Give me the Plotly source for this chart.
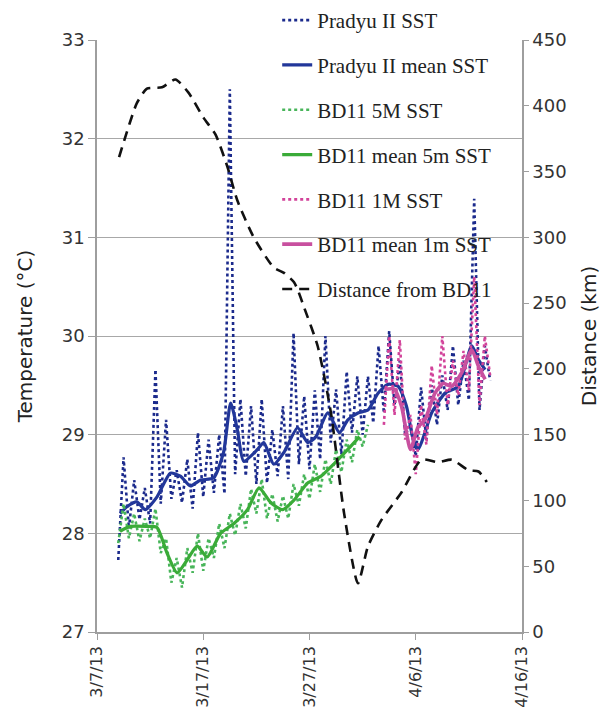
import plotly.graph_objects as go
import pandas as pd

BASE = pd.Timestamp("2013-03-07")

# ---- Pradyu II SST (raw): daily troughs (at day d) and peaks (at d+0.5)
P_TROUGH_DAY = list(range(2, 38))
P_TROUGH = [27.73, 28.05, 28.14, 28.10, 28.30, 28.35, 28.31, 28.25, 28.37, 28.41,
            28.40, 28.60, 28.58, 28.50, 28.51, 28.58, 28.55, 28.70, 28.65, 28.75,
            28.92, 28.80, 29.02, 29.00, 29.12, 29.22, 29.30, 29.00, 28.78, 28.95,
            29.10, 29.25, 29.30, 29.35, 29.25, 29.55]
P_PEAK_DAY = [d + 0.5 for d in range(2, 37)]
P_PEAK = [28.77, 28.54, 28.46, 29.66, 29.15, 28.64, 28.75, 29.02, 28.95, 29.00,
          32.50, 29.36, 29.29, 29.36, 29.05, 29.29, 30.03, 29.39, 29.45, 30.00,
          29.46, 29.64, 29.59, 29.59, 29.90, 30.05, 29.75, 29.10, 29.48, 29.50,
          29.60, 29.90, 29.75, 31.39, 29.90]

# ---- Pradyu II mean SST
P_MEAN_DAY = [2.17, 2.81, 3.75, 4.54, 5.65, 6.90, 7.85, 8.79, 9.74, 10.97,
              11.91, 12.58, 13.21, 13.81, 15.10, 15.70, 16.64, 17.59, 18.88, 19.83,
              20.61, 21.72, 22.82, 23.61, 24.56, 25.50, 26.45, 27.39, 28.34, 29.12,
              29.76, 30.23, 30.86, 31.49, 32.75, 34.01, 35.27, 35.91, 36.53]
P_MEAN = [28.20, 28.27, 28.32, 28.24, 28.37, 28.61, 28.58, 28.48, 28.54, 28.56,
          28.82, 29.32, 29.05, 28.73, 28.85, 28.92, 28.70, 28.82, 29.07, 28.92,
          28.98, 29.22, 29.02, 29.15, 29.22, 29.25, 29.42, 29.51, 29.49, 29.29,
          28.95, 28.85, 29.02, 29.22, 29.42, 29.49, 29.90, 29.76, 29.66]

# ---- BD11 5M SST (raw)
G_TROUGH_DAY = list(range(2, 26))
G_TROUGH = [27.90, 27.95, 27.92, 27.95, 27.80, 27.50, 27.45, 27.60, 27.62, 27.75,
            27.85, 27.98, 28.05, 28.20, 28.15, 28.12, 28.15, 28.28, 28.35, 28.42,
            28.50, 28.62, 28.72, 28.88]
G_PEAK_DAY = [d + 0.5 for d in range(2, 26)]
G_PEAK = [28.30, 28.20, 28.15, 28.25, 27.95, 27.75, 27.85, 28.00, 27.95, 28.10,
          28.20, 28.30, 28.45, 28.55, 28.40, 28.38, 28.50, 28.60, 28.70, 28.75,
          28.85, 28.95, 29.05, 29.10]

# ---- BD11 mean 5m SST
G_MEAN_DAY = [2.17, 3.12, 4.70, 5.65, 6.59, 7.54, 8.48, 9.43, 10.37, 11.63,
              12.89, 14.16, 15.25, 16.36, 17.47, 18.56, 19.83, 21.09, 22.35, 23.61, 24.71]
G_MEAN = [28.02, 28.07, 28.07, 28.06, 27.80, 27.60, 27.73, 27.87, 27.76, 28.00,
          28.10, 28.24, 28.46, 28.31, 28.24, 28.34, 28.51, 28.58, 28.71, 28.85, 28.98]

# ---- BD11 1M SST (raw)
M_TROUGH_DAY = list(range(27, 38))
M_TROUGH = [29.10, 29.20, 28.95, 28.60, 28.90, 29.20, 29.30, 29.40, 29.45, 29.30, 29.60]
M_PEAK_DAY = [d + 0.5 for d in range(27, 37)]
M_PEAK = [30.00, 29.96, 29.20, 29.30, 29.70, 30.00, 29.75, 29.85, 30.60, 30.00]

# ---- BD11 mean 1m SST
M_MEAN_DAY = [27.04, 27.99, 28.65, 29.00, 29.50, 30.23, 30.86, 31.80, 32.60, 33.38,
              34.33, 35.27, 35.91, 36.53]
M_MEAN = [29.46, 29.46, 29.29, 29.10, 28.85, 29.08, 29.15, 29.42, 29.52, 29.49,
          29.63, 29.86, 29.69, 29.56]

# ---- Distance from BD11 (km)
D_DAY = [2.08, 2.81, 3.75, 4.70, 6.12, 7.38, 8.61, 10.02, 11.16, 12.26,
         13.21, 14.75, 16.64, 17.59, 18.53, 18.90, 19.48, 20.78, 22.03, 23.26,
         24.56, 25.50, 26.76, 28.65, 30.54, 32.12, 33.38, 34.96, 35.90, 36.69]
D_KM = [361, 380, 402, 413, 414, 420, 410, 391, 378, 354,
        328, 300, 277, 273, 266, 260, 247, 217, 166, 90,
        37, 65, 85, 106, 131, 129, 131, 123, 122, 114]

TICK_DAYS = [0, 10, 20, 30, 40]
TICK_TEXT = ["3/7/13", "3/17/13", "3/27/13", "4/6/13", "4/16/13"]


def to_dates(days):
    return [BASE + pd.Timedelta(days=float(d)) for d in days]


def interleave(tday, tval, pday, pval):
    pts = sorted(list(zip(tday, tval)) + list(zip(pday, pval)))
    return to_dates([p[0] for p in pts]), [p[1] for p in pts]


NAVY_DOT = "#1b2a8c"
NAVY = "#22379a"
GREEN_DOT = "#48b55a"
GREEN = "#3aab38"
PINK_DOT = "#d2439a"
PINK = "#c8509f"

fig = go.Figure()

px, py = interleave(P_TROUGH_DAY, P_TROUGH, P_PEAK_DAY, P_PEAK)
fig.add_trace(go.Scatter(x=px, y=py, mode="lines", name="Pradyu II SST",
                         line=dict(color=NAVY_DOT, width=2.6, dash="dot"),
                         legendgroup="a"))
fig.add_trace(go.Scatter(x=to_dates(P_MEAN_DAY), y=P_MEAN, mode="lines",
                         name="Pradyu II mean SST",
                         line=dict(color=NAVY, width=3.2, shape="spline", smoothing=0.6),
                         legendgroup="b"))
gx, gy = interleave(G_TROUGH_DAY, G_TROUGH, G_PEAK_DAY, G_PEAK)
fig.add_trace(go.Scatter(x=gx, y=gy, mode="lines", name="BD11 5M SST",
                         line=dict(color=GREEN_DOT, width=2.6, dash="dot"),
                         legendgroup="c"))
fig.add_trace(go.Scatter(x=to_dates(G_MEAN_DAY), y=G_MEAN, mode="lines",
                         name="BD11 mean 5m SST",
                         line=dict(color=GREEN, width=3.2, shape="spline", smoothing=0.6),
                         legendgroup="d"))
mx, my = interleave(M_TROUGH_DAY, M_TROUGH, M_PEAK_DAY, M_PEAK)
fig.add_trace(go.Scatter(x=mx, y=my, mode="lines", name="BD11 1M SST",
                         line=dict(color=PINK_DOT, width=2.6, dash="dot"),
                         legendgroup="e"))
fig.add_trace(go.Scatter(x=to_dates(M_MEAN_DAY), y=M_MEAN, mode="lines",
                         name="BD11 mean 1m SST",
                         line=dict(color=PINK, width=3.6, shape="spline", smoothing=0.6),
                         legendgroup="f"))
fig.add_trace(go.Scatter(x=to_dates(D_DAY), y=D_KM, mode="lines",
                         name="Distance from BD11", yaxis="y2",
                         line=dict(color="#111111", width=2.6, dash="10px,7px",
                                   shape="spline", smoothing=0.6),
                         legendgroup="g"))

AX_FONT = dict(family="DejaVu Sans", size=18, color="#333333")
GRAYLINE = "#9e9e9e"

fig.update_layout(
    width=605, height=716,
    margin=dict(l=97, r=83, t=40, b=84, autoexpand=False),
    paper_bgcolor="#ffffff", plot_bgcolor="#ffffff",
    showlegend=True,
    legend=dict(x=0.424, xanchor="left",
                y=1.0676, yanchor="top",
                bgcolor="rgba(0,0,0,0)", borderwidth=0,
                font=dict(family="Liberation Serif", size=21, color="#222222"),
                tracegroupgap=14.5),
    xaxis=dict(type="date", automargin=False,
               range=[BASE, BASE + pd.Timedelta(days=40)],
               tickvals=to_dates(TICK_DAYS), ticktext=TICK_TEXT,
               tickangle=-90, ticks="outside", ticklen=6, tickcolor=GRAYLINE,
               showline=True, linecolor=GRAYLINE, linewidth=1.5,
               showgrid=False, zeroline=False,
               tickfont=dict(family="DejaVu Sans", size=16, color="#333333")),
    yaxis=dict(range=[27, 33], dtick=1, ticks="outside", ticklen=7, tickcolor=GRAYLINE,
               automargin=False,
               showline=True, linecolor=GRAYLINE, linewidth=1.5,
               showgrid=True, gridcolor="#a8a8a8", gridwidth=1, zeroline=False,
               tickfont=AX_FONT,
               title=dict(text="Temperature (°C)", standoff=24,
                          font=dict(family="DejaVu Sans", size=20, color="#222222"))),
    yaxis2=dict(range=[0, 450], dtick=50, overlaying="y", side="right",
                automargin=False,
                ticks="outside", ticklen=5, tickcolor=GRAYLINE,
                showline=True, linecolor=GRAYLINE, linewidth=1.5,
                showgrid=False, zeroline=False, tickfont=AX_FONT,
                title=dict(text="Distance (km)", standoff=16,
                           font=dict(family="DejaVu Sans", size=20, color="#222222"))),
)

fig.write_html("out.html")
